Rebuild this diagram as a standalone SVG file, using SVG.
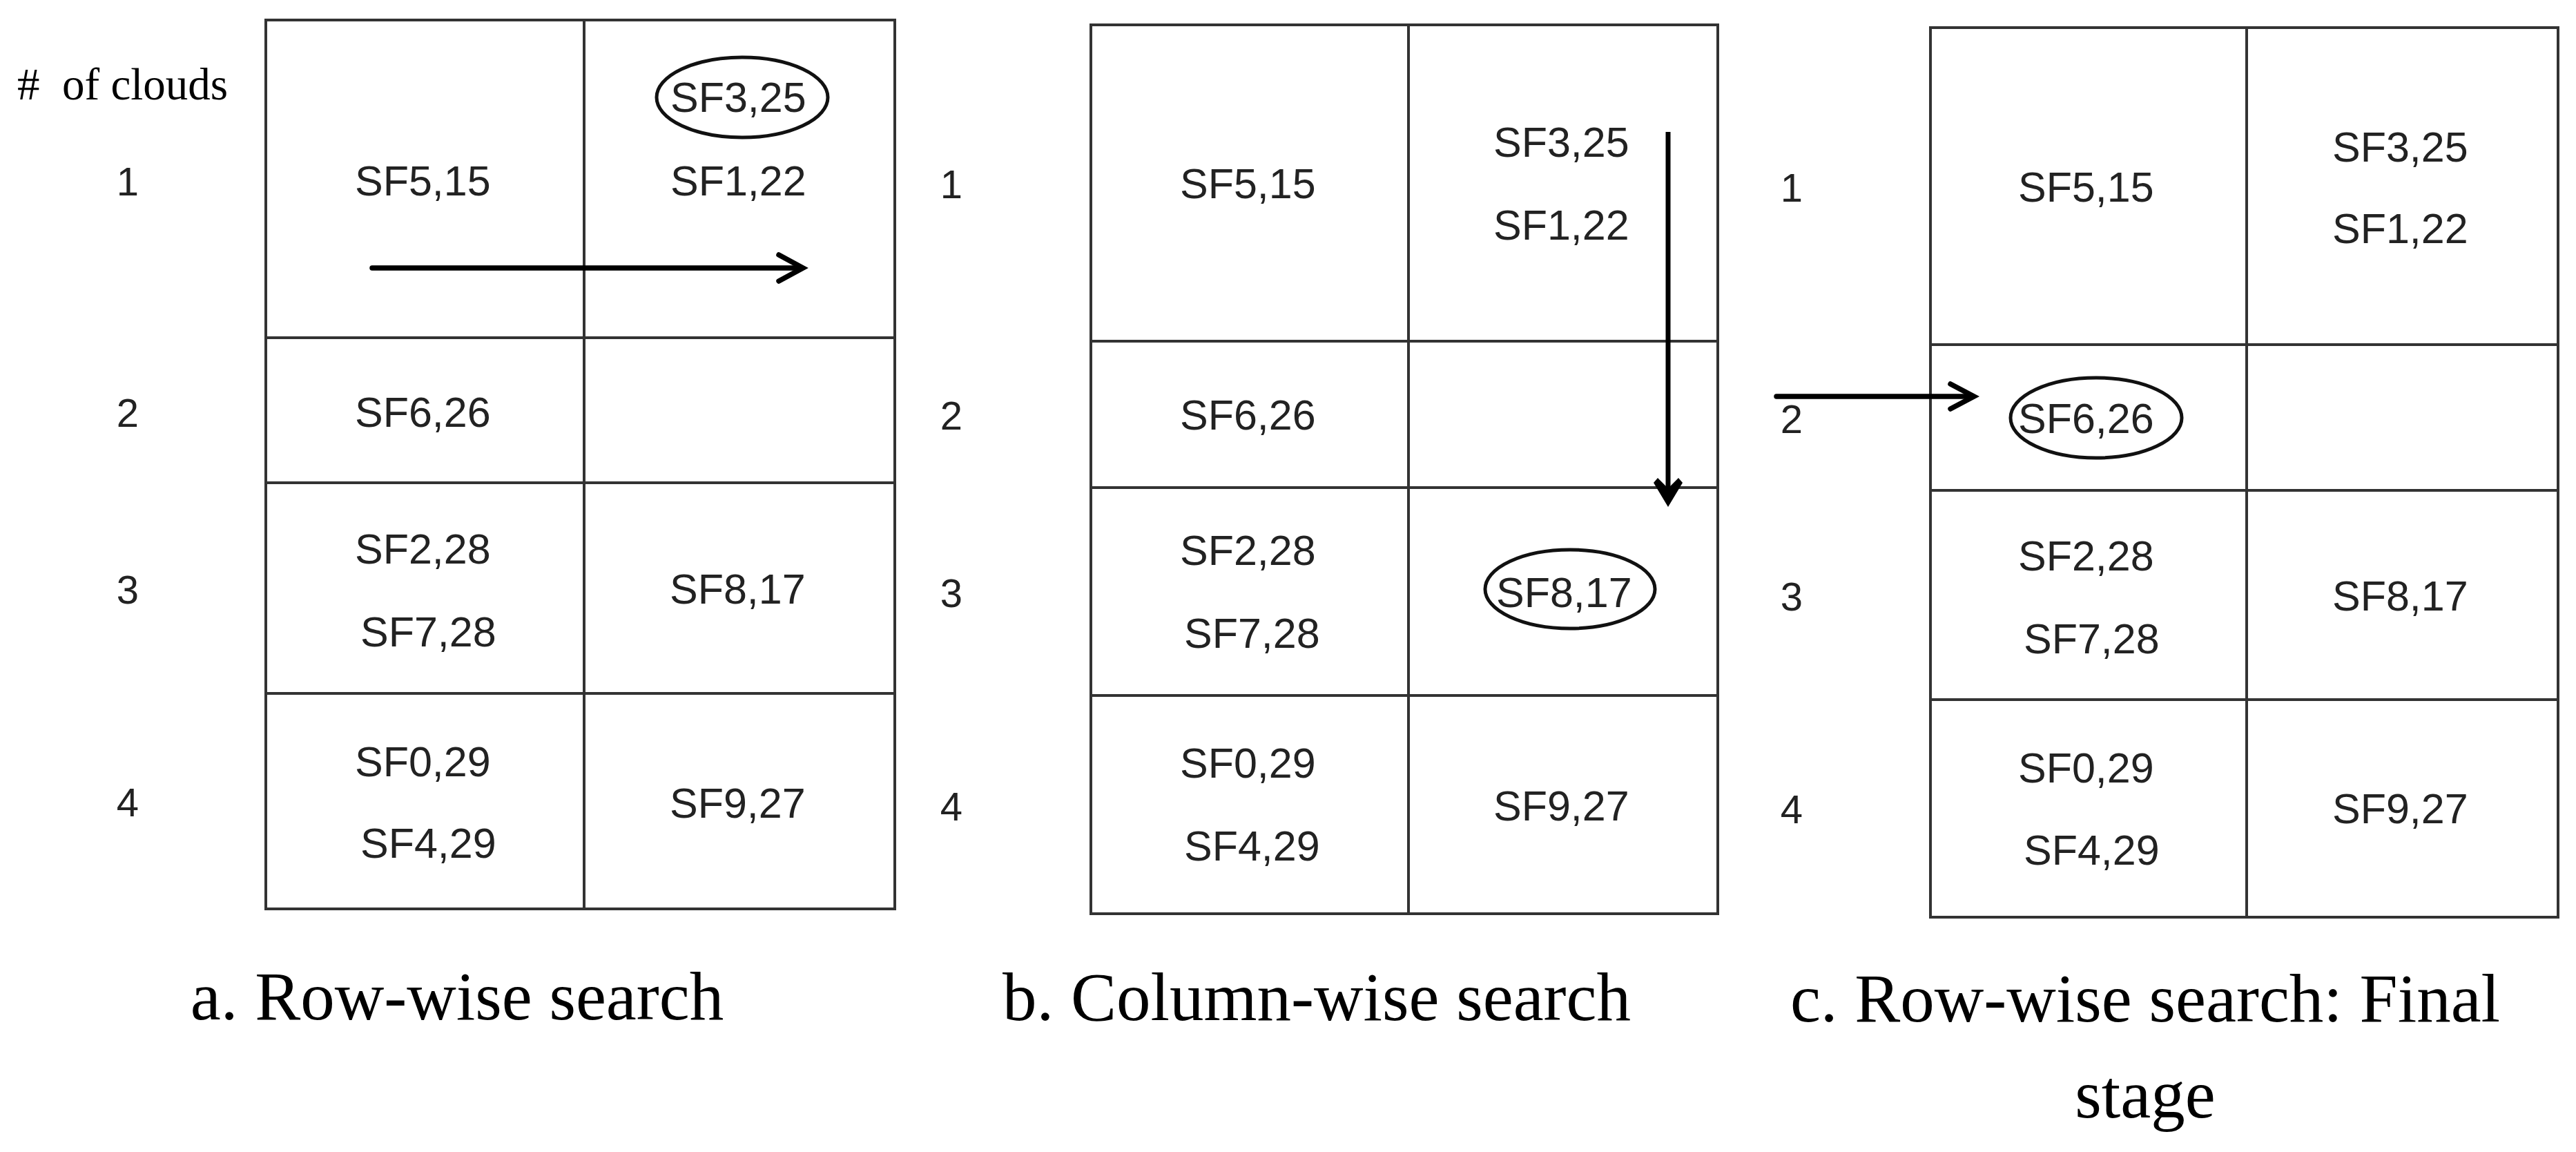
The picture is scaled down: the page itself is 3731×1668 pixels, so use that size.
<svg xmlns="http://www.w3.org/2000/svg" width="3731" height="1668" viewBox="0 0 3731 1668">
<style>
.bg{fill:#ffffff}
.grid{fill:none;stroke:#333333;stroke-width:4}
.sf{font-family:"Liberation Sans",Arial,sans-serif;font-size:61px;fill:#222222}
.num{font-family:"Liberation Sans",Arial,sans-serif;font-size:58px;fill:#222222;text-anchor:middle}
.cap{font-family:"Liberation Serif","Times New Roman",serif;font-size:99px;fill:#000000;text-anchor:middle}
.hdr{font-family:"Liberation Serif","Times New Roman",serif;font-size:65px;fill:#000000}
.ring{fill:none;stroke:#111111;stroke-width:5}
.arr{fill:none;stroke:#000000;stroke-width:7.5;stroke-linecap:round;stroke-linejoin:miter}
.arrv{fill:none;stroke:#000000;stroke-width:7}
.head{fill:#000000;stroke:none}
</style>
<rect class="bg" x="0" y="0" width="3731" height="1668"/>

<text id="hdr-clouds" class="hdr" x="25" y="144" xml:space="preserve">#  of clouds</text>

<!-- Panel a -->
<g id="panel-a">
  <g id="a-grid">
    <rect class="grid" x="385" y="29" width="911" height="1287"/>
    <line class="grid" x1="846" y1="29" x2="846" y2="1316"/>
    <line class="grid" x1="385" y1="489" x2="1296" y2="489"/>
    <line class="grid" x1="385" y1="699" x2="1296" y2="699"/>
    <line class="grid" x1="385" y1="1004" x2="1296" y2="1004"/>
  </g>
  <g id="a-rowlabels">
    <text class="num" x="185" y="283">1</text>
    <text class="num" x="185" y="618">2</text>
    <text class="num" x="185" y="874">3</text>
    <text class="num" x="185" y="1182">4</text>
  </g>
  <g id="a-r1c1"><text class="sf" x="514" y="283">SF5,15</text></g>
  <g id="a-r1c2">
    <ellipse class="ring" cx="1075" cy="141" rx="124" ry="58"/>
    <text class="sf" x="971" y="162">SF3,25</text>
    <text class="sf" x="971" y="283">SF1,22</text>
  </g>
  <g id="a-r2c1"><text class="sf" x="514" y="618">SF6,26</text></g>
  <g id="a-r3c1">
    <text class="sf" x="514" y="816">SF2,28</text>
    <text class="sf" x="522" y="936">SF7,28</text>
  </g>
  <g id="a-r3c2"><text class="sf" x="970" y="874">SF8,17</text></g>
  <g id="a-r4c1">
    <text class="sf" x="514" y="1124">SF0,29</text>
    <text class="sf" x="522" y="1242">SF4,29</text>
  </g>
  <g id="a-r4c2"><text class="sf" x="970" y="1184">SF9,27</text></g>
  <text id="cap-a" class="cap" x="662" y="1476">a. Row-wise search</text>
</g>

<!-- Panel b -->
<g id="panel-b">
  <g id="b-grid">
    <rect class="grid" x="1580" y="36" width="908" height="1287"/>
    <line class="grid" x1="2040" y1="36" x2="2040" y2="1323"/>
    <line class="grid" x1="1580" y1="494" x2="2488" y2="494"/>
    <line class="grid" x1="1580" y1="706" x2="2488" y2="706"/>
    <line class="grid" x1="1580" y1="1007" x2="2488" y2="1007"/>
  </g>
  <g id="b-rowlabels">
    <text class="num" x="1378" y="287">1</text>
    <text class="num" x="1378" y="622">2</text>
    <text class="num" x="1378" y="879">3</text>
    <text class="num" x="1378" y="1188">4</text>
  </g>
  <g id="b-r1c1"><text class="sf" x="1709" y="287">SF5,15</text></g>
  <g id="b-r1c2">
    <text class="sf" x="2163" y="227">SF3,25</text>
    <text class="sf" x="2163" y="347">SF1,22</text>
  </g>
  <g id="b-r2c1"><text class="sf" x="1709" y="622">SF6,26</text></g>
  <g id="b-r3c1">
    <text class="sf" x="1709" y="818">SF2,28</text>
    <text class="sf" x="1715" y="938">SF7,28</text>
  </g>
  <g id="b-r3c2">
    <ellipse class="ring" cx="2274" cy="853" rx="123" ry="57"/>
    <text class="sf" x="2167" y="879">SF8,17</text>
  </g>
  <g id="b-r4c1">
    <text class="sf" x="1709" y="1126">SF0,29</text>
    <text class="sf" x="1715" y="1246">SF4,29</text>
  </g>
  <g id="b-r4c2"><text class="sf" x="2163" y="1188">SF9,27</text></g>
  <text id="cap-b" class="cap" x="1907" y="1477">b. Column-wise search</text>
</g>

<!-- Panel c -->
<g id="panel-c">
  <g id="c-grid">
    <rect class="grid" x="2796" y="40" width="909" height="1288"/>
    <line class="grid" x1="3254" y1="40" x2="3254" y2="1328"/>
    <line class="grid" x1="2796" y1="499" x2="3705" y2="499"/>
    <line class="grid" x1="2796" y1="710" x2="3705" y2="710"/>
    <line class="grid" x1="2796" y1="1013" x2="3705" y2="1013"/>
  </g>
  <g id="c-rowlabels">
    <text class="num" x="2595" y="292">1</text>
    <text class="num" x="2595" y="627">2</text>
    <text class="num" x="2595" y="884">3</text>
    <text class="num" x="2595" y="1192">4</text>
  </g>
  <g id="c-r1c1"><text class="sf" x="2923" y="292">SF5,15</text></g>
  <g id="c-r1c2">
    <text class="sf" x="3378" y="234">SF3,25</text>
    <text class="sf" x="3378" y="352">SF1,22</text>
  </g>
  <g id="c-r2c1">
    <ellipse class="ring" cx="3036" cy="605" rx="124" ry="58"/>
    <text class="sf" x="2923" y="627">SF6,26</text>
  </g>
  <g id="c-r3c1">
    <text class="sf" x="2923" y="826">SF2,28</text>
    <text class="sf" x="2931" y="946">SF7,28</text>
  </g>
  <g id="c-r3c2"><text class="sf" x="3378" y="884">SF8,17</text></g>
  <g id="c-r4c1">
    <text class="sf" x="2923" y="1133">SF0,29</text>
    <text class="sf" x="2931" y="1252">SF4,29</text>
  </g>
  <g id="c-r4c2"><text class="sf" x="3378" y="1192">SF9,27</text></g>
  <text id="cap-c1" class="cap" x="3107" y="1479">c. Row-wise search: Final</text>
  <text id="cap-c2" class="cap" x="3107" y="1618">stage</text>
</g>

<!-- Connectors -->
<g id="connectors">
  <g id="arrow-a">
    <line class="arr" x1="539" y1="388" x2="1160" y2="388"/>
    <polyline class="arr" points="1128,369 1163,388 1128,407"/>
  </g>
  <g id="arrow-b">
    <line class="arrv" x1="2416" y1="191" x2="2416" y2="715"/>
    <path class="head" d="M2416,734 L2395,699 L2401,692 L2416,707 L2431,692 L2437,699 Z"/>
  </g>
  <g id="arrow-c">
    <line class="arr" x1="2573" y1="574" x2="2856" y2="574"/>
    <polyline class="arr" points="2825,556 2859,574 2825,592"/>
  </g>
</g>
</svg>
